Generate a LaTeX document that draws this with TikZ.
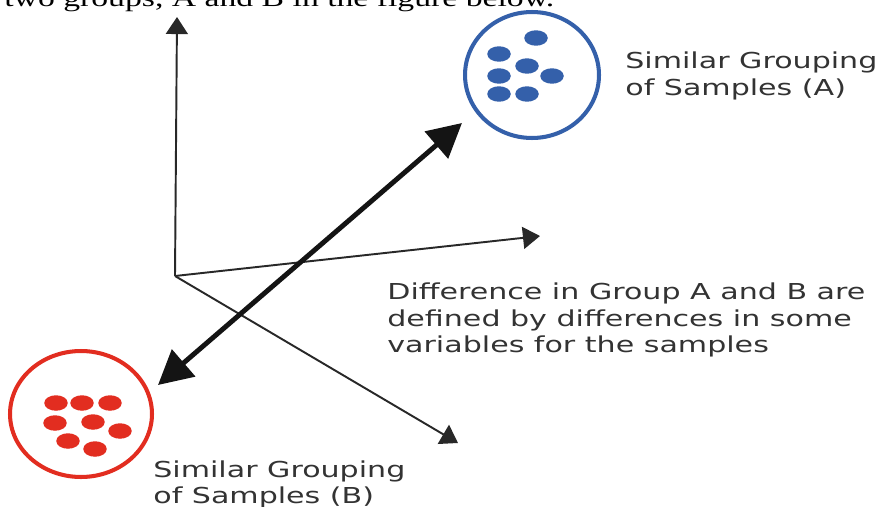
\documentclass[tikz,border=0pt]{standalone}
\usepackage{fontspec}
\setmainfont{Liberation Serif}[FakeStretch=1.37]
\newfontfamily\labelfont{DejaVu Sans}[FakeStretch=1.37]
\usetikzlibrary{arrows.meta,shapes.geometric}
\definecolor{grpblue}{RGB}{52,96,170}
\definecolor{grpred}{RGB}{226,45,32}
\definecolor{axisgray}{RGB}{40,40,40}

\begin{document}
\begin{tikzpicture}[x=.02cm,y=-.02cm,
  axis/.style={draw=axisgray,line width=1.1pt,-{Triangle[length=9.7pt,width=12.5pt]}},
  diff/.style={draw=black!92,line width=2.8pt,{Triangle[length=19.3pt,width=19.9pt]}-{Triangle[length=19.3pt,width=19.9pt]}},
  ring/.style={ellipse,draw,line width=2.3pt,inner sep=0pt,minimum height=2.52cm},
  dot/.style={ellipse,fill,inner sep=0pt,minimum width=.47cm,minimum height=.31cm},
  lbl/.style={font={\labelfont\fontsize{12.5}{14.8}\selectfont},text=black!80,align=left,inner sep=0pt,anchor=base west}]
\useasboundingbox (0,0) rectangle (879,507);
\clip (0,0) rectangle (879,507);
\node[anchor=base west,inner sep=0pt] (intro) at (4,7) {\fontsize{14}{16}\selectfont two groups, A and B in the figure below.};
% axes
\coordinate (O) at (175,276);
\coordinate (up) at (177,17);
\coordinate (right) at (540,236);
\coordinate (down) at (458,443);
\draw[axis] (O) -- (up);\draw[axis] (O) -- (right);\draw[axis] (O) -- (down);
% groups
\node[ring,draw=grpblue,minimum width=2.68cm] (grpA) at (532,75) {};
\node[ring,draw=grpred,minimum width=2.84cm] (grpB) at (81,414) {};
\foreach \x/\y [count=\i] in {536/38,499/54,527/66,499/76,552/76,499/94,527/94}
  \node[dot,grpblue] (a\i) at (\x,\y) {};
\foreach \x/\y [count=\i] in {56/403,82/403,110/403,55/423,93/422,120/431,68/441,95/449}
  \node[dot,grpred] (b\i) at (\x,\y) {};
\coordinate (tipA) at (462,123);
\coordinate (tipB) at (158,385);
\draw[diff] (tipB) -- (tipA);
% labels (base = last line)
\node[lbl] (labA) at (625,95) {Similar Grouping\\of Samples (A)};
\node[lbl] (labB) at (153,503) {Similar Grouping\\of Samples (B)};
\node[lbl] (note) at (387,352) {Difference in Group A and B are\\defined by differences in some\\variables for the samples};
\end{tikzpicture}
\end{document}
